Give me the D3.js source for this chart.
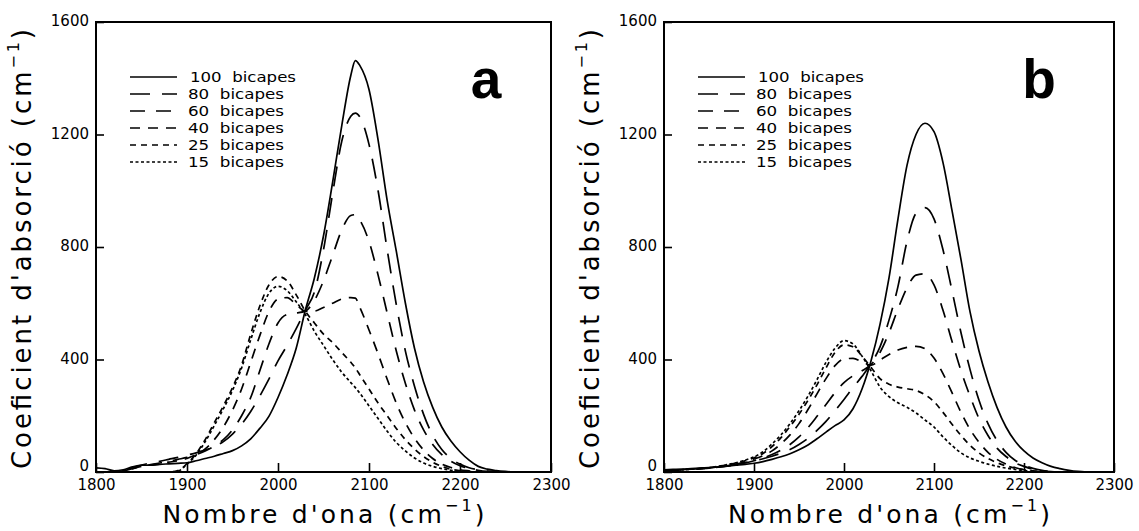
<!DOCTYPE html>
<html>
<head>
<meta charset="utf-8">
<script src="https://cdn.jsdelivr.net/npm/d3@7"></script>
<style>
  html, body { margin: 0; padding: 0; background: #fff; }
  svg { display: block; }
  text { font-family: "DejaVu Sans", sans-serif; fill: #000; }
</style>
</head>
<body>
<svg id="chart" width="1139" height="531"></svg>
<script>
// ---------------- DATA ----------------
const xTicks = [1800, 1900, 2000, 2100, 2200, 2300];
const yTicks = [0, 400, 800, 1200, 1600];
const seriesLabels = ["100  bicapes", "80  bicapes", "60  bicapes", "40  bicapes", "25  bicapes", "15  bicapes"];
const panelNames = ["a", "b"];

// panel a wavenumbers (cm-1)
const waveA = [1800,1810,1820,1830,1840,1850,1860,1870,1880,1890,1900,1910,1920,1930,1940,1950,1960,1970,1980,1990,2000,2010,2020,2030,2040,2050,2060,2070,2080,2085,2090,2100,2110,2120,2130,2140,2150,2160,2170,2180,2190,2200,2210,2220,2230,2240,2250,2260];
const a100 = [15,12,4,8,18,24,24,27,29,31,33,40,48,56,66,76,93,118,155,198,265,345,440,575,690,840,1030,1230,1410,1463,1445,1360,1180,965,785,600,440,320,230,160,110,72,42,20,10,5,2,0];
const a80  = [0,0,0,5,15,25,32,38,45,52,60,68,78,90,108,135,170,215,270,330,395,450,510,575,640,790,990,1175,1265,1276,1262,1165,1000,790,595,430,305,205,130,80,48,28,15,8,3,1,0,0];
const a60  = [0,0,0,4,12,20,26,32,38,45,52,62,75,92,115,150,200,265,360,455,530,560,565,572,610,680,770,860,912,915,895,820,700,565,430,315,220,150,98,62,38,22,12,6,2,0,0,0];
const a40  = [0,0,0,4,12,20,25,30,35,40,48,62,82,115,160,220,295,390,485,570,615,620,595,572,572,585,600,615,620,618,585,505,420,330,245,175,120,78,48,28,16,8,4,1,0,0,0,0];
const a25  = [0,0,0,0,0,0,0,0,0,5,30,65,115,175,235,300,380,490,590,665,695,680,630,572,530,490,460,425,390,370,345,295,245,200,155,115,82,55,35,20,10,5,2,0,0,0,0,0];
const a15  = [0,0,0,0,0,0,0,0,0,3,28,60,108,165,225,290,370,470,565,635,660,645,605,560,500,450,400,355,318,300,280,235,190,145,105,75,50,32,20,12,6,3,1,0,0,0,0,0];

// panel b wavenumbers (cm-1)
const waveB = [1800,1810,1820,1830,1840,1850,1860,1870,1880,1890,1900,1910,1920,1930,1940,1950,1960,1970,1980,1990,2000,2010,2020,2030,2040,2050,2060,2070,2080,2090,2100,2110,2120,2130,2140,2150,2160,2170,2180,2190,2200,2210,2220,2230,2240,2250,2260,2270];
const b100 = [8,9,10,12,14,16,18,21,24,27,31,37,45,54,65,79,96,118,142,165,185,225,295,395,525,690,900,1090,1200,1240,1210,1100,930,755,570,430,320,230,160,110,75,50,33,20,12,6,2,0];
const b80  = [5,6,8,10,12,15,18,22,27,33,40,47,56,67,80,98,120,148,180,218,258,300,340,385,445,540,660,820,920,940,900,790,645,495,365,255,172,112,70,42,25,13,6,2,0,0,0,0];
const b60  = [5,6,8,10,12,14,17,21,26,32,40,50,62,78,98,125,158,198,240,282,318,342,360,382,425,495,580,655,700,705,665,575,465,360,270,190,130,85,55,33,20,10,4,1,0,0,0,0];
const b40  = [5,6,8,10,12,14,17,22,28,36,46,58,75,100,132,172,222,278,332,378,402,404,392,380,398,418,434,443,447,438,405,350,282,212,152,106,70,45,28,16,8,3,0,0,0,0,0,0];
const b25  = [5,6,8,10,12,15,19,25,32,40,50,66,90,122,162,205,255,310,370,425,452,445,412,372,332,312,302,296,290,275,250,212,170,130,95,68,48,33,22,14,8,4,1,0,0,0,0,0];
const b15  = [5,6,8,10,12,15,20,26,33,42,54,72,100,132,172,218,270,328,390,440,467,455,412,360,302,268,246,230,210,185,160,125,94,68,50,38,28,20,14,9,5,3,1,0,0,0,0,0];

// ---------------- DRAW ----------------
const svg = d3.select("#chart");
const dashes = [null, "20,12", "15,11", "10,8", "6,5", "3,2.5"];

const panels = [
  { name: panelNames[0], left: 96, right: 551, wave: waveA, series: [a100, a80, a60, a40, a25, a15] },
  { name: panelNames[1], left: 664, right: 1114, wave: waveB, series: [b100, b80, b60, b40, b25, b15] }
];
const plotTop = 22, plotBottom = 472;

panels.forEach(p => {
  const g = svg.append("g");
  const x = d3.scaleLinear().domain([1800, 2300]).range([p.left, p.right]);
  const y = d3.scaleLinear().domain([0, 1600]).range([plotBottom, plotTop]);

  const clipId = "clip-" + p.name;
  svg.append("clipPath").attr("id", clipId)
    .append("rect").attr("x", p.left).attr("y", plotTop)
    .attr("width", p.right - p.left).attr("height", plotBottom - plotTop);

  const line = d3.line()
    .x((d, i) => x(p.wave[i]))
    .y(d => y(d))
    .curve(d3.curveMonotoneX);
  const cg = g.append("g").attr("clip-path", `url(#${clipId})`);
  p.series.forEach((s, k) => {
    cg.append("path")
      .attr("d", line(s))
      .attr("fill", "none")
      .attr("stroke", "#000")
      .attr("stroke-width", 1.7)
      .attr("stroke-dasharray", dashes[k]);
  });

  const xAxis = d3.axisBottom(x).tickValues(xTicks).tickFormat(d3.format("d"))
    .tickSizeInner(-9).tickSizeOuter(0).tickPadding(7);
  const yAxis = d3.axisLeft(y).tickValues(yTicks).tickFormat(d3.format("d"))
    .tickSizeInner(-8).tickSizeOuter(0).tickPadding(7);
  const gx = g.append("g").attr("transform", `translate(0,${plotBottom})`).call(xAxis);
  const gy = g.append("g").attr("transform", `translate(${p.left},0)`).call(yAxis);
  [gx, gy].forEach(a => {
    a.select(".domain").remove();
    a.selectAll(".tick line").attr("stroke", "#000").attr("stroke-width", 1.6);
    a.selectAll("text").style("font-family", "DejaVu Sans").style("font-size", "15px").attr("fill", "#000");
  });
  gx.selectAll("text").attr("dy", "0.72em");
  gy.selectAll("text").attr("dy", d => d === 0 ? "-0.1em" : "0.25em");

  g.append("rect")
    .attr("x", p.left).attr("y", plotTop)
    .attr("width", p.right - p.left).attr("height", plotBottom - plotTop)
    .attr("fill", "none").attr("stroke", "#000").attr("stroke-width", 2);

  const lg = g.append("g");
  seriesLabels.forEach((lab, k) => {
    const ly = 77 + k * 17;
    lg.append("line")
      .attr("x1", p.left + 34).attr("x2", p.left + 81)
      .attr("y1", ly).attr("y2", ly)
      .attr("stroke", "#000").attr("stroke-width", 1.7)
      .attr("stroke-dasharray", dashes[k]);
    lg.append("text")
      .attr("x", p.left + (k === 0 ? 94 : 92)).attr("y", ly)
      .attr("dy", "0.36em")
      .style("font-size", "14px")
      .style("white-space", "pre")
      .attr("xml:space", "preserve")
      .attr("textLength", k === 0 ? 106 : 96)
      .attr("lengthAdjust", "spacingAndGlyphs")
      .text(lab);
  });

  g.append("text")
    .attr("x", p.left + (p.name === "a" ? 390 : 375))
    .attr("y", 98)
    .attr("text-anchor", "middle")
    .style("font-family", "Liberation Sans, Arial, sans-serif")
    .style("font-weight", "bold")
    .style("font-size", "55px")
    .text(p.name);

  const xt = g.append("text")
    .attr("x", (p.left + p.right) / 2)
    .attr("y", 523)
    .attr("text-anchor", "middle")
    .style("font-size", "25px")
    .attr("textLength", 322)
    .attr("lengthAdjust", "spacing");
  xt.append("tspan").text("Nombre d'ona (cm");
  xt.append("tspan").attr("dy", -12).style("font-size", "16px").text("−1");
  xt.append("tspan").attr("dy", 12).text(")");

  const yt = g.append("text")
    .attr("transform", `translate(${p.left - 65},${(plotTop + plotBottom) / 2 + 2}) rotate(-90)`)
    .attr("text-anchor", "middle")
    .style("font-size", "26px")
    .attr("textLength", 440)
    .attr("lengthAdjust", "spacing");
  yt.append("tspan").text("Coeficient d'absorció (cm");
  yt.append("tspan").attr("dy", -12).style("font-size", "16px").text("−1");
  yt.append("tspan").attr("dy", 12).text(")");
});
</script>
</body>
</html>
